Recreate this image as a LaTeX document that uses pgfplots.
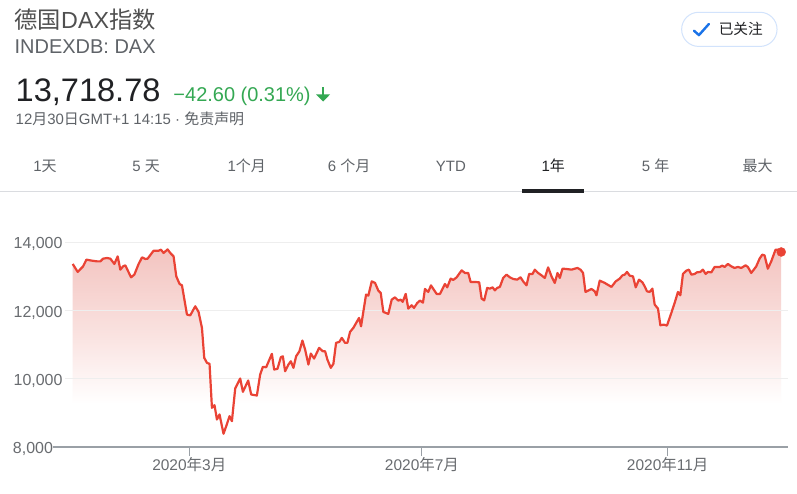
\documentclass[border=0pt]{standalone}
\usepackage{pgfplots}
\pgfplotsset{compat=1.18}
\usepackage{pgfplotstable}
\usepackage{fontspec}
\setmainfont{Liberation Sans}
\newfontfamily\cjk{Noto Sans CJK SC}
\definecolor{gred}{RGB}{234,67,53}
\definecolor{ggreen}{RGB}{52,168,83}
\definecolor{gblue}{RGB}{26,115,232}
\definecolor{btnborder}{RGB}{210,227,252}
\definecolor{txtdark}{RGB}{32,33,36}
\definecolor{txtgray}{RGB}{95,99,104}
\definecolor{titlegray}{RGB}{80,80,80}
\definecolor{labelgray}{RGB}{105,108,112}
\definecolor{axisgray}{RGB}{154,160,166}
\definecolor{gridgray}{RGB}{238,238,238}
\definecolor{sepgray}{RGB}{218,220,224}
\definecolor{filltop}{RGB}{243,196,192}
\definecolor{fillmid}{RGB}{250,227,225}
\pgfdeclareverticalshading{daxfill}{100bp}{color(0bp)=(white); color(36bp)=(white); color(53bp)=(fillmid); color(75bp)=(filltop); color(100bp)=(filltop)}

\pgfplotstableread{
x y
72.3 13368
77.3 13134
82.7 13298
86.0 13494
91.7 13464
96.7 13444
100.0 13444
102.7 13523
106.7 13543
110.0 13523
114.0 13368
117.3 13590
120.0 13201
122.7 13298
125.0 13327
130.7 12976
134.0 13055
138.3 13368
141.7 13561
145.0 13514
147.3 13523
153.3 13757
158.3 13757
160.7 13786
163.3 13690
167.3 13795
170.0 13690
173.3 13590
176.0 13005
179.3 12782
181.7 12741
186.7 11884
190.0 11863
195.0 12127
198.3 11963
201.7 11495
204.0 10617
206.7 10470
209.3 10441
211.7 9153
214.3 9229
216.7 8811
219.3 8957
223.3 8392
226.0 8615
229.3 8907
231.7 8761
235.0 9718
240.0 10011
242.7 9621
248.0 9952
251.0 9542
256.7 9513
260.0 10128
262.7 10353
266.0 10341
271.7 10734
274.0 10274
277.3 10295
280.7 10634
282.7 10663
285.0 10224
288.3 10420
290.7 10517
293.3 10324
296.0 10663
299.3 10810
302.3 11123
305.0 10859
308.3 10420
310.7 10742
314.0 10596
319.0 10909
322.7 10810
325.0 10810
327.3 10567
330.7 10324
333.3 10441
336.0 11056
339.3 11085
341.7 11202
345.0 11056
347.3 11056
350.0 11378
353.3 11495
356.7 11670
359.0 11787
361.0 11541
366.0 12469
368.3 12440
371.7 12858
375.0 12812
378.3 12586
380.7 12519
383.3 11963
388.3 11904
391.7 12323
395.0 12390
398.3 12294
400.7 12323
402.7 12256
405.7 12490
408.3 12060
411.7 12156
414.0 12080
417.3 12226
420.0 12294
423.0 12235
425.0 12636
428.3 12548
431.0 12741
436.7 12490
440.0 12490
445.0 12782
447.3 12683
450.7 12938
453.3 12900
456.7 12976
461.7 13180
465.0 13104
468.3 13104
470.7 12841
475.0 12841
479.3 12829
481.7 12352
484.3 12302
487.3 12665
490.0 12645
492.7 12683
495.0 12595
497.3 12665
500.0 12695
503.3 12958
506.7 13055
510.0 12976
513.3 12929
517.3 12908
520.7 12976
523.3 12858
526.7 12741
529.3 13075
532.7 13075
535.0 13201
538.3 13104
541.7 13034
545.0 12958
548.3 13268
551.7 13005
555.0 12812
557.7 13104
560.0 12958
562.7 13230
566.7 13221
571.7 13201
575.0 13230
577.7 13251
580.7 13201
583.3 13104
585.7 12548
588.3 12586
591.7 12636
595.0 12566
596.7 12449
600.0 12879
605.0 12812
611.7 12695
616.0 12858
620.0 12938
622.7 13034
625.0 13055
627.3 13134
630.0 13025
633.3 13005
636.0 12683
639.3 12908
642.7 12829
645.0 12712
647.3 12566
650.0 12548
652.7 12645
655.0 12177
658.3 12060
660.7 11571
664.0 11591
667.3 11562
671.7 11934
675.0 12226
678.3 12548
680.7 12449
683.3 13075
686.7 13172
689.3 13201
691.7 13055
695.0 13075
697.3 13122
700.7 13134
703.3 13201
706.0 13075
708.3 13134
711.7 13122
715.0 13280
720.0 13280
722.7 13318
725.0 13280
728.3 13368
731.7 13298
735.0 13251
738.3 13280
741.7 13251
746.0 13327
748.3 13280
751.7 13104
756.7 13298
760.0 13523
762.7 13640
765.0 13619
768.3 13230
771.7 13444
776.0 13786
778.3 13786
781.7 13718.78
}\daxdata

\begin{document}
\begin{tikzpicture}[x=1pt,y=1pt]
\fill[white] (0,0) rectangle (797,494);
% header
\node[anchor=base west, inner sep=0pt, text=titlegray, font=\fontsize{23.3}{26}\selectfont] at (14,465.7) {{\cjk 德国}DAX{\cjk 指数}};
\node[anchor=base west, inner sep=0pt, text=txtgray, font=\fontsize{20}{24}\selectfont] at (14,440.7) {INDEXDB: DAX};
\node[anchor=base west, inner sep=0pt, text=txtdark, font=\fontsize{32.6}{36}\selectfont] at (15,392.3) {13,718.78};
\node[anchor=base west, inner sep=0pt, text=ggreen, font=\fontsize{20}{24}\selectfont] at (173,392.3) {−42.60 (0.31\%)};
\fill[ggreen] (321.6,407) rectangle (324.4,397);
\fill[ggreen] (316,399.5) -- (330,399.5) -- (323,392.3) -- cycle;
\node[anchor=base west, inner sep=0pt, text=txtgray, font=\fontsize{15}{18}\selectfont] at (15,369) {12{\cjk 月}30{\cjk 日}GMT+1 14:15 · {\cjk 免责声明}};
% follow button
\draw[btnborder, line width=1pt, rounded corners=17pt] (682,447.5) rectangle (777.5,481.7);
\draw[gblue, line width=2.4pt, line cap=round, line join=round] (694.3,463.3) -- (699.3,458.8) -- (709.3,470);
\node[anchor=west, inner sep=0pt, text=txtdark, font=\cjk\fontsize{14.7}{17}\selectfont] at (719,464.7) {已关注};
% tabs
\begin{scope}[every node/.style={anchor=base, inner sep=0pt, text=txtgray, font=\fontsize{15}{18}\selectfont}]
\node at (44.5,322) {1{\cjk 天}};
\node at (145.7,322) {5 {\cjk 天}};
\node at (246.5,322) {1{\cjk 个月}};
\node at (349,322) {6 {\cjk 个月}};
\node at (451,322) {YTD};
\node[text=txtdark] at (553.5,322) {1{\cjk 年}};
\node at (656,322) {5 {\cjk 年}};
\node at (758,322) {{\cjk 最大}};
\end{scope}
\draw[sepgray, line width=1pt] (0,302) -- (797,302);
\fill[txtdark] (522,301) rectangle (584,304.3);
% chart
\begin{axis}[
  at={(53pt,46.3pt)}, anchor=south west,
  scale only axis, width=735pt, height=205pt,
  xmin=53, xmax=788, ymin=8000, ymax=14000,
  clip=false, axis on top,
  scaled y ticks=false, scaled x ticks=false,
  axis x line*=bottom, axis y line*=left,
  y axis line style={draw=none},
  x axis line style={draw=axisgray, line width=2pt},
  tick align=outside, major tick length=9pt,
  xtick={189,422,668},
  xticklabels={2020{\cjk 年}3{\cjk 月},2020{\cjk 年}7{\cjk 月},2020{\cjk 年}11{\cjk 月}},
  xtick style={draw=axisgray, line width=1pt},
  ytick style={draw=none},
  ytick={10000,12000,14000},
  yticklabels={10{,}000,12{,}000,14{,}000},
  extra y ticks={8000},
  extra y tick labels={8{,}000},
  extra y tick style={yticklabel style={xshift=-9.6pt}},
  yticklabel style={anchor=base east, inner sep=0pt, xshift=18.3pt, yshift=-6.6pt, text=labelgray, font=\fontsize{16}{18}\selectfont},
  xticklabel style={anchor=base, inner sep=0pt, yshift=-14.8pt, text=labelgray, font=\fontsize{15.5}{18}\selectfont},
]
\addplot[draw=none, shade, shading=daxfill] table[x=x,y=y] {\daxdata} -- (axis cs:781.7,8000) -- (axis cs:72.3,8000) -- cycle;
\draw[gridgray, line width=1pt] (axis cs:65,14000) -- (axis cs:788,14000);
\draw[gridgray, line width=1pt] (axis cs:65,12000) -- (axis cs:788,12000);
\draw[gridgray, line width=1pt] (axis cs:65,10000) -- (axis cs:788,10000);
\addplot[gred, line width=2.2pt, line join=round, no markers] table[x=x,y=y] {\daxdata};
\addplot[only marks, mark=*, mark size=4.5pt, color=gred, mark options={draw=gred, fill=gred}] coordinates {(781.7,13718.78)};
\end{axis}
\end{tikzpicture}
\end{document}
